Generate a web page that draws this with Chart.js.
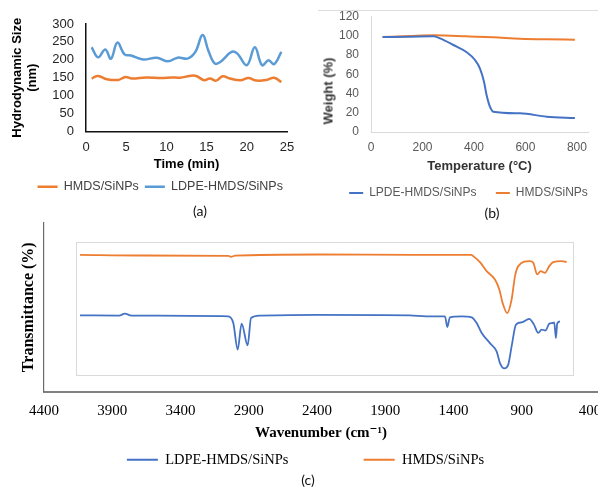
<!DOCTYPE html>
<html>
<head>
<meta charset="utf-8">
<script src="https://cdn.jsdelivr.net/npm/chart.js@4/dist/chart.umd.min.js"></script>
<style>
  html, body { margin: 0; padding: 0; background: #fff; }
  body { width: 598px; height: 487px; position: relative; overflow: hidden; }
  .box { position: absolute; }
  .cap { position: absolute; font: 14px Lato, "Open Sans", sans-serif; color: #111; transform: translateX(-50%); line-height: 17px; }
  .ytitle { position: absolute; white-space: nowrap; transform: translate(-50%, -50%) rotate(-90deg); }
  #b-frame { position: absolute; left: 318px; top: 10px; width: 280px; border-top: 1px solid #dedede; }
</style>
</head>
<body>
<div class="box" style="left:0;top:0;width:300px;height:203px"><canvas id="chart-a"></canvas></div>
<div id="b-frame"></div>
<div class="box" style="left:300px;top:0;width:318px;height:209px"><canvas id="chart-b"></canvas></div>
<div class="box" style="left:0;top:215px;width:598px;height:262px"><canvas id="chart-c"></canvas></div>
<div class="ytitle" style="left:328px;top:91px;font:bold 13px 'Liberation Sans', Arial, sans-serif;color:#333">Weight (%)</div>
<div class="cap" style="left:200px;top:202px">(a)</div>
<div class="cap" style="left:492px;top:204px">(b)</div>
<div class="cap" style="left:308px;top:471px">(c)</div>
<script>
// (a) hydrodynamic size vs time
const timeHmds = [0.7, 1.5, 2.6, 4.0, 4.9, 5.7, 7.5, 9.4, 10.7, 11.7, 12.9, 13.7, 14.7, 15.4, 16.2, 17.0, 17.9, 19.2, 20.2, 21.2, 22.5, 23.4, 24.3];
const sizeHmds = [148, 155, 146, 144, 152, 148, 151, 149, 151, 150, 155, 155, 143, 148, 142, 154, 148, 143, 149, 142, 144, 150, 138];
const timeLdpe = [0.7, 1.5, 2.4, 3.1, 3.9, 4.8, 5.6, 7.1, 8.8, 10.2, 11.4, 12.7, 13.6, 14.5, 15.2, 16.0, 16.7, 18.1, 18.8, 20.0, 21.0, 21.9, 22.7, 23.4, 24.3];
const sizeLdpe = [235, 207, 229, 203, 248, 215, 212, 201, 206, 196, 206, 204, 222, 269, 227, 190, 194, 222, 218, 185, 235, 185, 199, 188, 222];

// (b) TGA
const tempLdpe = [45, 151, 242, 268, 320, 372, 404, 423, 439, 449, 462, 475, 579, 682, 792];
const wtLdpe = [98.7, 99.0, 99.4, 97.3, 90.4, 82.8, 74.8, 66.2, 52.3, 38.4, 26.3, 21.1, 19.4, 15.9, 14.5];
const tempHmds = [45, 151, 249, 372, 475, 579, 682, 792];
const wtHmds = [98.7, 99.7, 100.4, 99.4, 98.4, 97.0, 96.3, 95.9];
const tempTicks = [0, 200, 400, 600, 800];

// (c) FTIR
const wnLdpe = [4136, 3850, 3807, 3760, 3050, 3013, 2981, 2952, 2908, 2883, 2818, 2400, 1719, 1600, 1462, 1445, 1426, 1340, 1267, 1230, 1193, 1133, 1084, 1059, 1028, 999, 974, 942, 900, 845, 810, 779, 754, 725, 698, 673, 662, 649, 640, 620];
const trLdpe = [46.6, 46.4, 47.6, 46.4, 46.0, 41.9, 25.6, 41.5, 28.2, 45.0, 46.4, 46.9, 46.6, 46.0, 46.0, 39.4, 45.4, 46.0, 45.4, 41.9, 35.8, 29.6, 24.5, 17.4, 14.1, 16.4, 27.6, 40.9, 42.3, 44.4, 40.9, 35.8, 37.9, 37.3, 41.5, 41.9, 42.3, 32.7, 41.5, 42.9];
const wnHmds = [4136, 3700, 3050, 3030, 3000, 2400, 1700, 1270, 1255, 1206, 1157, 1096, 1064, 1040, 1006, 974, 949, 925, 840, 815, 786, 761, 730, 698, 669, 607, 571];
const trHmds = [83.6, 83.2, 83.0, 82.4, 83.1, 83.8, 83.6, 83.6, 82.8, 79.1, 73.6, 68.5, 62.4, 54.2, 48.0, 56.3, 70.6, 76.7, 79.8, 78.7, 71.6, 73.6, 72.6, 76.7, 79.1, 79.8, 79.1];
const wnTicks = [4400, 3900, 3400, 2900, 2400, 1900, 1400, 900, 400];

const ORANGE = '#ED7D31';
const SKY = '#5B9BD5';
const BLUE = '#4472C4';
const SANS = "'Liberation Sans', Arial, sans-serif";
const SERIF = "'Liberation Serif', 'Times New Roman', 'DejaVu Serif', serif";

const pts = (xs, ys) => xs.map((x, i) => ({ x, y: ys[i] }));

// pin an axis box size and drop the label overflow padding
const fixAxis = (w, h) => (axis) => {
  if (w != null) axis.width = w;
  if (h != null) axis.height = h;
  axis.paddingLeft = axis.paddingRight = axis.paddingTop = axis.paddingBottom = 0;
};

// empty axis on the right, only to hold the plot away from the edge
const spacer = (w) => ({
  type: 'linear', position: 'right',
  grid: { display: false, drawTicks: false },
  border: { display: false },
  ticks: { display: false },
  afterFit: fixAxis(w, null)
});

// stretch the legend spacing after given items
const padLabels = (extra) => (chart) =>
  Chart.defaults.plugins.legend.labels.generateLabels(chart)
    .map(item => ({ ...item, text: item.text + (extra[item.datasetIndex] || '') }));

const line = (label, data, color, width, more) => Object.assign({
  label, data, borderColor: color, backgroundColor: color,
  borderWidth: width, pointRadius: 0, fill: false,
}, more || {});

Chart.defaults.animation = false;
Chart.defaults.plugins.tooltip.enabled = false;

new Chart(document.getElementById('chart-a'), {
  type: 'line',
  data: {
    datasets: [
      line('HMDS/SiNPs', pts(timeHmds, sizeHmds), ORANGE, 2.5, { tension: 0.4 }),
      line('LDPE-HMDS/SiNPs', pts(timeLdpe, sizeLdpe), SKY, 2.5, { tension: 0.4 }),
    ]
  },
  options: {
    responsive: true,
    maintainAspectRatio: false,
    layout: { padding: { left: 20.5, top: 24, right: 0, bottom: 0 } },
    plugins: {
      legend: {
        position: 'bottom',
        labels: {
          usePointStyle: true, pointStyle: 'line', pointStyleWidth: 20, padding: 6,
          color: '#404040', font: { family: SANS, size: 12.5 }
        }
      }
    },
    scales: {
      x: {
        type: 'linear', min: 0, max: 25,
        grid: { display: false, drawTicks: false },
        border: { color: '#111', width: 1.5 },
        ticks: { stepSize: 5, padding: 8, autoSkip: false, color: '#262626', font: { family: SANS, size: 13 } },
        title: { display: true, text: 'Time (min)', color: '#000', font: { family: SANS, size: 13, weight: 'bold' }, padding: { top: 0, bottom: 2.2 } },
        afterFit: fixAxis(null, 43)
      },
      y: {
        min: 0, max: 300,
        grid: { display: false, drawTicks: false },
        border: { color: '#111', width: 1.5 },
        ticks: { stepSize: 50, padding: 12, autoSkip: false, color: '#262626', font: { family: SANS, size: 13 } },
        title: { display: true, text: ['Hydrodynamic Size', '(nm)'], color: '#000', font: { family: SANS, size: 13, weight: 'bold' }, padding: { top: -11.3, bottom: 0 } },
        afterFit: fixAxis(65.5, null)
      },
      gap: spacer(13)
    }
  }
});

new Chart(document.getElementById('chart-b'), {
  type: 'line',
  data: {
    datasets: [
      line('LPDE-HMDS/SiNPs', pts(tempLdpe, wtLdpe), BLUE, 2, { cubicInterpolationMode: 'monotone' }),
      line('HMDS/SiNPs', pts(tempHmds, wtHmds), ORANGE, 2, { cubicInterpolationMode: 'monotone' }),
    ]
  },
  options: {
    responsive: true,
    maintainAspectRatio: false,
    layout: { padding: { left: 19, top: 16.5, right: 0, bottom: 0 } },
    plugins: {
      legend: {
        position: 'bottom',
        labels: {
          usePointStyle: true, pointStyle: 'line', pointStyleWidth: 14, padding: 6,
          color: '#595959', font: { family: SANS, size: 12 },
          generateLabels: padLabels(['    '])
        }
      }
    },
    scales: {
      x: {
        type: 'linear', min: 0, max: 843,
        grid: { display: false, drawTicks: false },
        border: { color: '#d9d9d9', width: 1 },
        afterBuildTicks: axis => { axis.ticks = tempTicks.map(v => ({ value: v })); },
        ticks: { padding: 8, autoSkip: false, color: '#595959', font: { family: SANS, size: 12 } },
        title: { display: true, text: 'Temperature (°C)', color: '#333', font: { family: SANS, size: 13, weight: 'bold' }, padding: { top: 0, bottom: 7.2 } },
        afterFit: fixAxis(null, 49)
      },
      y: {
        min: 0, max: 120,
        grid: { display: false, drawTicks: false },
        border: { color: '#d9d9d9', width: 1 },
        ticks: { stepSize: 20, padding: 12, autoSkip: false, color: '#595959', font: { family: SANS, size: 12 } },
        afterFit: fixAxis(52, null)
      },
      gap: spacer(30)
    }
  }
});

// light frame of the pasted spectrum image
const innerFrame = {
  id: 'innerFrame',
  beforeDatasetsDraw(chart) {
    const { ctx, scales: { x, y } } = chart;
    const l = Math.round(x.getPixelForValue(4166)) + 0.5;
    const r = Math.round(x.getPixelForValue(525)) + 0.5;
    const t = Math.round(y.getPixelForValue(91.4)) + 0.5;
    const b = Math.round(y.getPixelForValue(9.8)) + 0.5;
    ctx.save();
    ctx.strokeStyle = '#d9d9d9';
    ctx.lineWidth = 1;
    ctx.strokeRect(l, t, r - l, b - t);
    ctx.restore();
  }
};

new Chart(document.getElementById('chart-c'), {
  type: 'line',
  data: {
    datasets: [
      line('LDPE-HMDS/SiNPs', pts(wnLdpe, trLdpe), BLUE, 1.8, { cubicInterpolationMode: 'monotone' }),
      line('HMDS/SiNPs', pts(wnHmds, trHmds), ORANGE, 1.8, { cubicInterpolationMode: 'monotone' }),
    ]
  },
  plugins: [innerFrame],
  options: {
    responsive: true,
    maintainAspectRatio: false,
    layout: { padding: { left: 13, top: 8, right: 0, bottom: 0 } },
    plugins: {
      legend: {
        position: 'bottom',
        labels: {
          usePointStyle: true, pointStyle: 'line', pointStyleWidth: 31, padding: 10,
          color: '#000', font: { family: SERIF, size: 14.5 },
          generateLabels: padLabels([' '.repeat(18)])
        }
      }
    },
    scales: {
      x: {
        type: 'linear', min: 341, max: 4400, reverse: true,
        grid: { display: false, drawTicks: false },
        border: { color: '#808080', width: 2 },
        afterBuildTicks: axis => { axis.ticks = wnTicks.map(v => ({ value: v })); },
        ticks: { padding: 10.5, autoSkip: false, color: '#000', font: { family: SERIF, size: 15 }, callback: v => String(v) },
        title: { display: true, text: 'Wavenumber (cm⁻¹)', color: '#000', font: { family: SERIF, size: 15, weight: 'bold' }, padding: { top: 0, bottom: 0 } },
        afterFit: fixAxis(null, 51)
      },
      y: {
        min: 0, max: 103.07,
        grid: { display: false, drawTicks: false },
        border: { color: '#6b6b6b', width: 1.2 },
        ticks: { display: false },
        title: { display: true, text: 'Transmittance (%)', color: '#000', font: { family: SERIF, size: 16, weight: 'bold' }, padding: { top: 6.4, bottom: 0 } },
        afterFit: fixAxis(31, null)
      }
    }
  }
});
</script>
</body>
</html>
